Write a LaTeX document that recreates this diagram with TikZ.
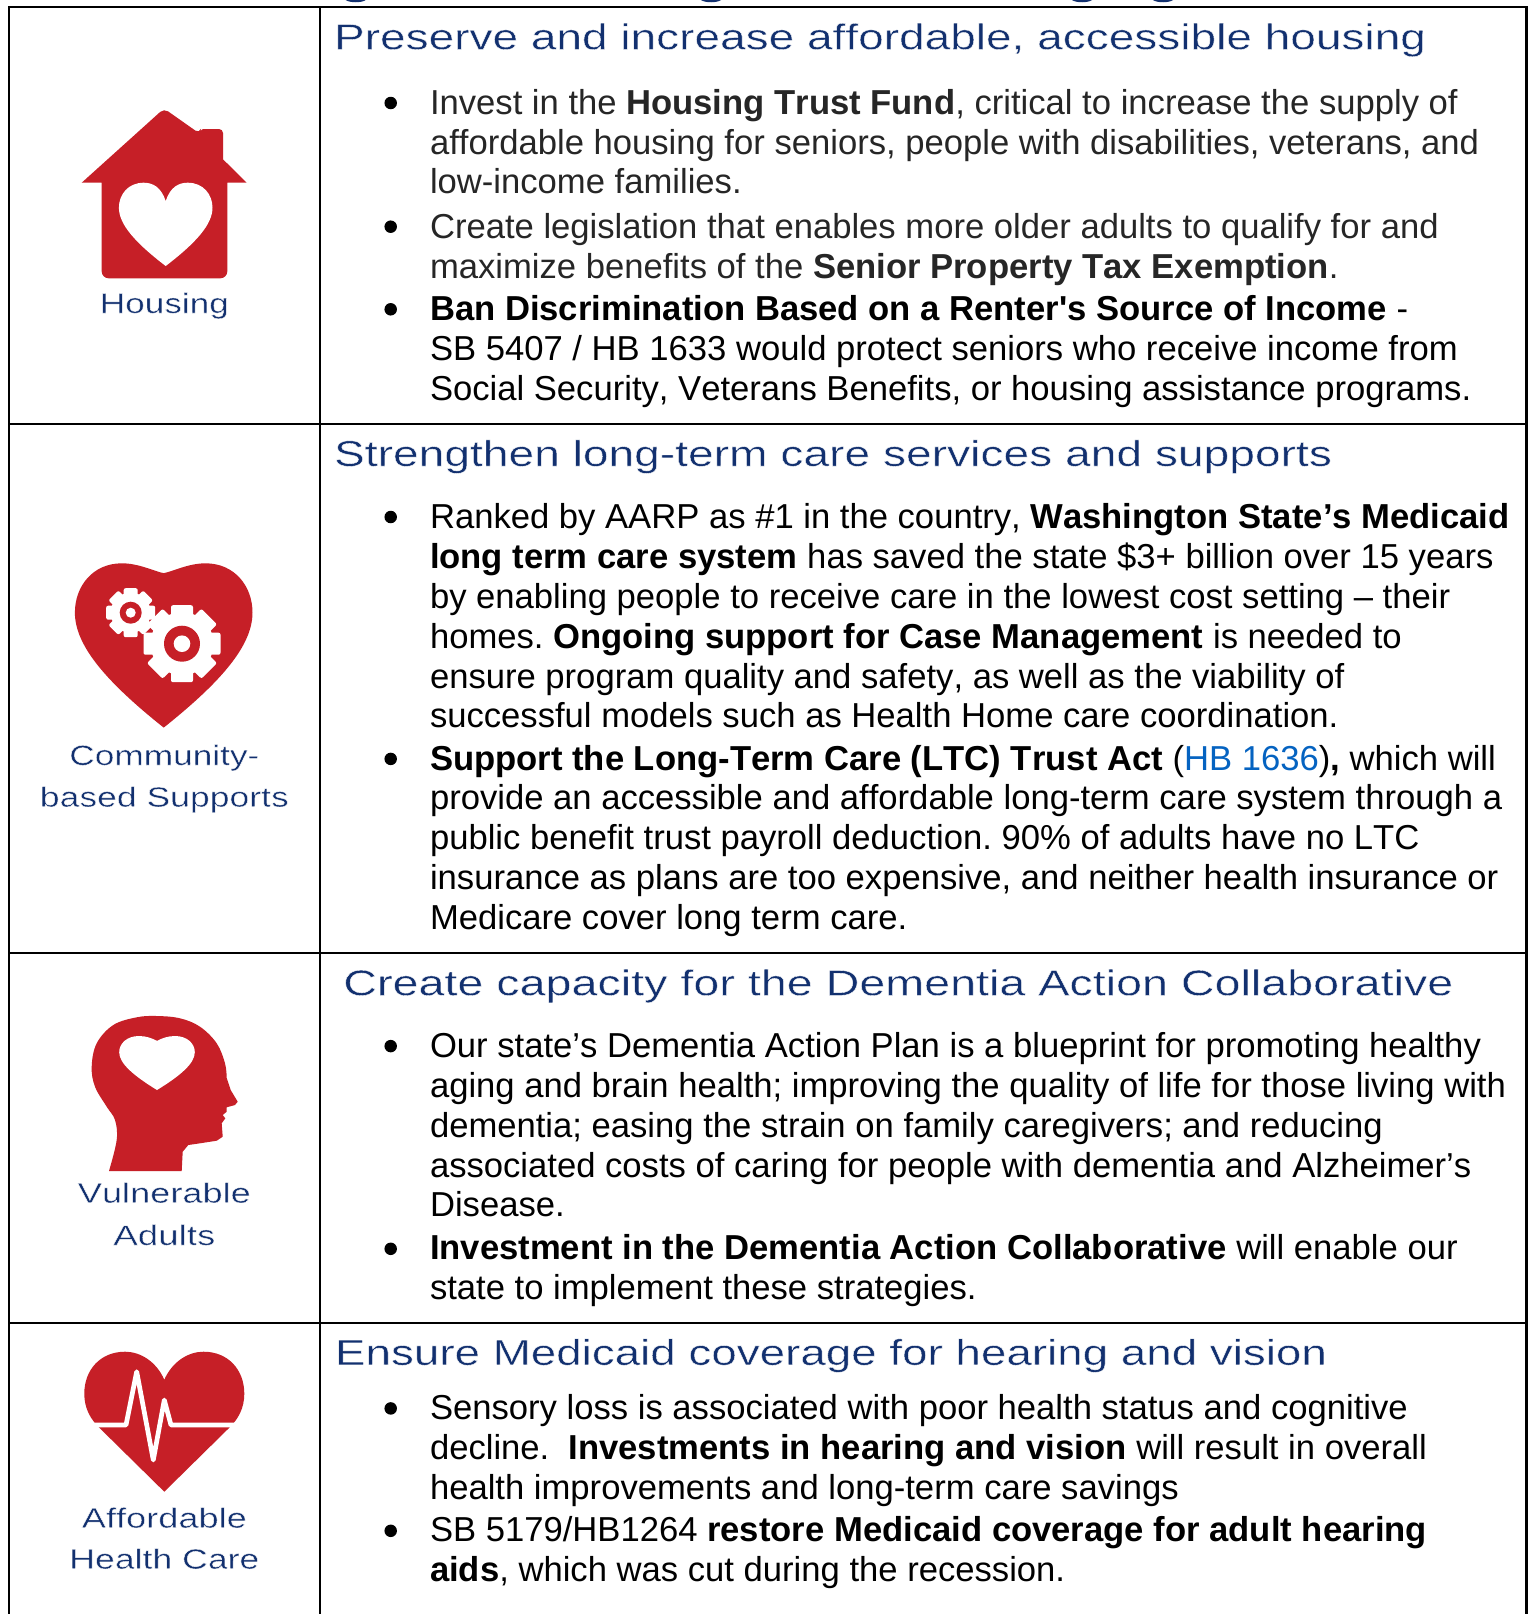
\documentclass[tikz,border=0pt]{standalone}
\usepackage{graphicx}
\usepackage{fontspec}
\setmainfont[Kerning=Off,Ligatures={CommonOff,TeXOff}]{Liberation Sans}
\definecolor{hblue}{HTML}{12306F}
\definecolor{hred}{HTML}{C61F27}
\definecolor{linkb}{HTML}{0563C1}
\definecolor{dgray}{HTML}{262626}
\newcommand{\bodysize}{\fontsize{34.63}{40}\selectfont\frenchspacing}
\newcommand{\fitw}[2]{\resizebox{#1pt}{\height}{\special{pdf:code 2 Tr 0.35 w 1 1 1 RG}#2\special{pdf:code 0 Tr}}}
\newcommand{\heartshape}[1]{(0,#1) .. controls (-.1,.05) and (-.28,0) .. (-.47,0) .. controls (-.8,0) and (-1,.14) .. (-1,.3) .. controls (-1,.5) and (-.65,.72) .. (0,1) .. controls (.65,.72) and (1,.5) .. (1,.3) .. controls (1,.14) and (.8,0) .. (.47,0) .. controls (.28,0) and (.1,.05) .. (0,#1) -- cycle}
\newcommand{\gearat}[5]{% cx cy outer hub toothwidth
  \fill[white] (#1,#2) circle (#4);
  \foreach \ang in {0,45,...,315}{
    \fill[white,rounded corners=2pt,rotate around={\ang:(#1,#2)}] (#1-#5/2,#2) rectangle (#1+#5/2,#2-#3);
  }}
\tikzset{
  grid/.style={line width=2.2pt,draw=black},
  bodyline/.style={anchor=base west,inner sep=0pt,outer sep=0pt,font=\bodysize,text=black},
  grayline/.style={bodyline,text=dgray},
  headline/.style={anchor=base west,inner sep=0pt,outer sep=0pt,font=\fontsize{36}{40}\selectfont,text=hblue},
  sidelabel/.style={anchor=base,inner sep=0pt,outer sep=0pt,font=\fontsize{28}{32}\selectfont,text=hblue},
  bulletdot/.style={circle,fill=black,inner sep=0pt,minimum size=12.5pt},
  iconred/.style={fill=hred,draw=none},
  iconwhite/.style={fill=white,draw=none}
}
\begin{document}
\begin{tikzpicture}[x=1pt,y=-1pt]
\useasboundingbox (0,0) rectangle (1531,1614);
\fill[white] (0,0) rectangle (1531,1614);
% cut-off descenders of the line above the table
\foreach \dx in {355.7,711,1082,1163}{
  \fill[hblue,shift={(\dx,0)}] (-10,0) .. controls (-6,3) and (6,3) .. (10,0) -- cycle;
}
% grid
\coordinate (tl) at (9,7); \coordinate (tr) at (1526.5,7);
\coordinate (a1) at (9,424); \coordinate (a2) at (1526.5,424);
\coordinate (b1) at (9,953); \coordinate (b2) at (1526.5,953);
\coordinate (c1) at (9,1323); \coordinate (c2) at (1526.5,1323);
\coordinate (bl) at (9,1614); \coordinate (br) at (1526.5,1614);
\coordinate (mt) at (320,7); \coordinate (mb) at (320,1614);
\draw[grid] (bl) -- (tl) -- (tr) -- (br);
\draw[grid] (a1) -- (a2);
\draw[grid] (b1) -- (b2);
\draw[grid] (c1) -- (c2);
\draw[grid] (mt) -- (mb);
% house icon
\fill[iconred] (81.7,182.7) [rounded corners=5pt] -- (164,108.5) -- (199.5,133.5) [rounded corners=2pt] -- (201,129) [rounded corners=4pt] -- (223,129) [sharp corners] -- (223,159.3) -- (246.7,182.7) -- (227.3,182.7) [rounded corners=7pt] -- (227.3,278.3) -- (101.7,278.3) [sharp corners] -- (101.7,182.7) -- cycle;
\fill[iconwhite,shift={(165.7,182.7)},xscale=46.8,yscale=83.3] \heartshape{.22};
% community heart
\fill[iconred,shift={(163.7,563.3)},xscale=88.8,yscale=164.3] \heartshape{.06};
\gearat{130.7}{612.7}{24.5}{20}{14}
\fill[hred] (130.7,612.7) circle (11);
\fill[white] (130.7,612.7) circle (5);
\gearat{182}{643.7}{38.5}{31.5}{22}
\fill[hred] (182,643.7) circle (18);
\fill[white] (182,643.7) circle (8.3);
% head icon
\fill[iconred] plot[smooth,tension=.6] coordinates {(109,1171) (116.7,1140) (115,1120) (106.7,1106.7) (95,1086.7) (91.7,1066.7) (96.7,1043.3) (113.3,1025) (136.7,1017.3) (156.7,1016) (180,1018.3) (200,1026.7) (216.7,1043.3) (225,1063.3) (226.7,1078)}
 -- (230.7,1090) -- (237.7,1101.7) -- (235,1105) -- (226.7,1107.3) -- (226.7,1111.7) -- (222.7,1115) -- (225.3,1118.3) -- (221.7,1123.3) -- (222.7,1136.7) -- (216.7,1140.7) -- (200,1143.3) -- (188.3,1145) -- (182.7,1151.7) -- (181.7,1171) -- cycle;
\fill[iconwhite,shift={(157,1036)},xscale=37.8,yscale=54] \heartshape{.09};
% health heart
\fill[iconred,shift={(164.3,1351.7)},xscale=80,yscale=140] (0,.2) .. controls (-.1,.07) and (-.3,0) .. (-.49,0) .. controls (-.8,0) and (-1,.13) .. (-1,.3) .. controls (-1,.4) and (-.93,.48) .. (-.8,.55) -- (0,1) -- (.8,.55) .. controls (.93,.48) and (1,.4) .. (1,.3) .. controls (1,.13) and (.8,0) .. (.49,0) .. controls (.3,0) and (.1,.07) .. (0,.2) -- cycle;
\draw[white,line width=4.7pt,line join=round,line cap=round] (95,1425) -- (126,1425) -- (136.7,1371.7) -- (153.3,1460) -- (164.3,1400) -- (171,1425) -- (235,1425);
% side labels
\node[sidelabel] (lhousing) at (164.3,313) {\fitw{129}{Housing}};
\node[sidelabel] (lcomm) at (164.3,765) {\fitw{190}{Community-}};
\node[sidelabel] (lbased) at (164.3,806.7) {\fitw{249}{based Supports}};
\node[sidelabel] (lvuln) at (164.3,1202.7) {\fitw{173}{Vulnerable}};
\node[sidelabel] (ladults) at (164.3,1245) {\fitw{102}{Adults}};
\node[sidelabel] (lafford) at (164.3,1527.7) {\fitw{165}{Affordable}};
\node[sidelabel] (lhealth) at (164.3,1568.7) {\fitw{190}{Health Care}};
% headings
\node[headline] (h1) at (334,49.3) {\fitw{1092}{Preserve and increase affordable, accessible housing}};
\node[headline] (h2) at (334,466) {\fitw{998}{Strengthen long-term care services and supports}};
\node[headline] (h3) at (343.3,995.3) {\fitw{1110}{Create capacity for the Dementia Action Collaborative}};
\node[headline] (h4) at (335,1364.9) {\fitw{992}{Ensure Medicaid coverage for hearing and vision}};
% row 1
\node[bulletdot] (b11) at (390.7,103) {};
\node[grayline] (t11) at (430,114) {Invest in the \textbf{Housing Trust Fund}, critical to increase the supply of};
\node[grayline] (t12) at (430,154.7) {affordable housing for seniors, people with disabilities, veterans, and};
\node[grayline] (t13) at (430,193.7) {low-income families.};
\node[bulletdot] (b12) at (390.7,226.7) {};
\node[grayline] (t14) at (430,238.7) {Create legislation that enables more older adults to qualify for and};
\node[grayline] (t15) at (430,278.7) {maximize benefits of the \textbf{Senior Property Tax Exemption}.};
\node[bulletdot] (b13) at (390.7,309.3) {};
\node[bodyline] (t16) at (430,320.3) {\textbf{Ban Discrimination Based on a Renter's Source of Income} -};
\node[bodyline] (t17) at (430,360.3) {SB 5407 / HB 1633 would protect seniors who receive income from};
\node[bodyline] (t18) at (430,400.3) {Social Security, Veterans Benefits, or housing assistance programs.};
% row 2
\node[bulletdot] (b21) at (390.7,517) {};
\node[bodyline] (t21) at (430,528) {Ranked by AARP as \#1 in the country, \textbf{Washington State’s Medicaid}};
\node[bodyline] (t22) at (430,568.1) {\textbf{long term care system} has saved the state \$3+ billion over 15 years};
\node[bodyline] (t23) at (430,608.3) {by enabling people to receive care in the lowest cost setting – their};
\node[bodyline] (t24) at (430,648.4) {homes. \textbf{Ongoing support for Case Management} is needed to};
\node[bodyline] (t25) at (430,688.6) {ensure program quality and safety, as well as the viability of};
\node[bodyline] (t26) at (430,727.7) {successful models such as Health Home care coordination.};
\node[bulletdot] (b22) at (390.7,758.9) {};
\node[bodyline] (t27) at (430,770.9) {\textbf{Support the Long-Term Care (LTC) Trust Act} (\textcolor{linkb}{HB 1636})\textbf{,} which will};
\node[bodyline] (t28) at (430,809) {provide an accessible and affordable long-term care system through a};
\node[bodyline] (t29) at (430,849.1) {public benefit trust payroll deduction. 90\% of adults have no LTC};
\node[bodyline] (t2a) at (430,889.3) {insurance as plans are too expensive, and neither health insurance or};
\node[bodyline] (t2b) at (430,929.4) {Medicare cover long term care.};
% row 3
\node[bulletdot] (b31) at (390.7,1046.1) {};
\node[bodyline] (t31) at (430,1057.1) {Our state’s Dementia Action Plan is a blueprint for promoting healthy};
\node[bodyline] (t32) at (430,1097.2) {aging and brain health; improving the quality of life for those living with};
\node[bodyline] (t33) at (430,1137.3) {dementia; easing the strain on family caregivers; and reducing};
\node[bodyline] (t34) at (430,1177.5) {associated costs of caring for people with dementia and Alzheimer’s};
\node[bodyline] (t35) at (430,1216.6) {Disease.};
\node[bulletdot] (b32) at (390.7,1248.8) {};
\node[bodyline] (t36) at (430,1259.8) {\textbf{Investment in the Dementia Action Collaborative} will enable our};
\node[bodyline] (t37) at (430,1299) {state to implement these strategies.};
% row 4
\node[bulletdot] (b41) at (390.7,1408.4) {};
\node[bodyline] (t41) at (430,1419.4) {Sensory loss is associated with poor health status and cognitive};
\node[bodyline] (t42) at (430,1459.5) {decline.\ \ \textbf{Investments in hearing and vision} will result in overall};
\node[bodyline] (t43) at (430,1499.7) {health improvements and long-term care savings};
\node[bulletdot] (b42) at (390.7,1530.8) {};
\node[bodyline] (t44) at (430,1541.8) {SB 5179/HB1264 \textbf{restore Medicaid coverage for adult hearing}};
\node[bodyline] (t45) at (430,1581) {\textbf{aids}, which was cut during the recession.};
\end{tikzpicture}
\end{document}
